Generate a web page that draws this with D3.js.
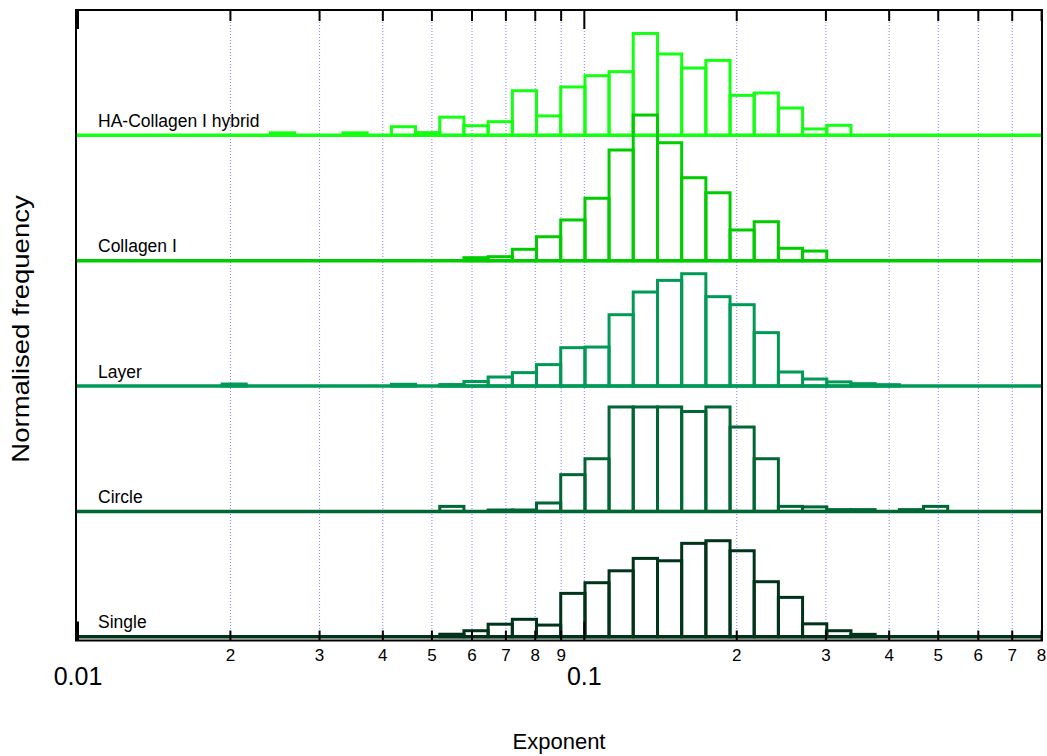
<!DOCTYPE html>
<html>
<head>
<meta charset="utf-8">
<script src="https://cdn.jsdelivr.net/npm/d3@7"></script>
<style>
  body { margin: 0; background: #fff; }
  text { font-family: "Liberation Sans", Arial, sans-serif; fill: #000; }
</style>
</head>
<body>
<svg id="chart" width="1047" height="756"></svg>
<script>
// bin edges of the exponent histogram (log spaced)
var binEdges = [0.009952, 0.01111, 0.01240, 0.01384, 0.01545, 0.01725, 0.01926, 0.02149, 0.02399, 0.02678,
    0.02990, 0.03337, 0.03725, 0.04159, 0.04642, 0.05182, 0.05784, 0.06457, 0.07208, 0.08046,
    0.08982, 0.1003, 0.1119, 0.1249, 0.1395, 0.1557, 0.1738, 0.1940, 0.2165, 0.2417,
    0.2698, 0.3012, 0.3362, 0.3753, 0.4190, 0.4677, 0.5220, 0.5827, 0.6505, 0.7261, 0.8106];

// series names, top to bottom
var seriesNames = ["HA-Collagen I hybrid", "Collagen I", "Layer", "Circle", "Single"];
var seriesColors = ["#14ff14", "#00cc00", "#009955", "#006633", "#00331a"];

// normalised frequency per bin (40 bins)
var haCollagen = [0, 0, 0, 0, 0, 0, 0, 0, 0.020, 0, 0, 0.020, 0, 0.069, 0.022, 0.145, 0.077, 0.109, 0.356, 0.155,
    0.386, 0.476, 0.508, 0.813, 0.649, 0.537, 0.598, 0.319, 0.338, 0.218, 0.051, 0.080, 0, 0, 0, 0, 0, 0, 0, 0];
var collagen = [0, 0, 0, 0, 0, 0, 0, 0, 0, 0, 0, 0, 0, 0, 0, 0, 0.024, 0.032, 0.091, 0.191,
    0.325, 0.498, 0.883, 1.162, 0.941, 0.662, 0.542, 0.245, 0.311, 0.099, 0.077, 0, 0, 0, 0, 0, 0, 0, 0, 0];
var layer = [0, 0, 0, 0, 0, 0, 0.016, 0, 0, 0, 0, 0, 0, 0.014, 0, 0.012, 0.036, 0.072, 0.107, 0.171,
    0.306, 0.311, 0.569, 0.750, 0.843, 0.896, 0.713, 0.649, 0.426, 0.112, 0.056, 0.033, 0.019, 0.011, 0, 0, 0, 0, 0, 0];
var circle = [0, 0, 0, 0, 0, 0, 0, 0, 0, 0, 0, 0, 0, 0, 0, 0.040, 0, 0.011, 0.011, 0.067,
    0.293, 0.420, 0.833, 0.833, 0.833, 0.797, 0.833, 0.673, 0.420, 0.040, 0.036, 0.014, 0.014, 0, 0.014, 0.040, 0, 0, 0, 0];
var single = [0, 0, 0, 0, 0, 0, 0, 0, 0, 0, 0, 0, 0, 0, 0, 0.020, 0.048, 0.100, 0.139, 0.093,
    0.346, 0.431, 0.526, 0.625, 0.606, 0.745, 0.766, 0.686, 0.439, 0.314, 0.103, 0.048, 0.019, 0, 0, 0, 0, 0, 0, 0];

var seriesValues = [haCollagen, collagen, layer, circle, single];

// axis ticks
var minorTicks = [0.02, 0.03, 0.04, 0.05, 0.06, 0.07, 0.08, 0.09, 0.2, 0.3, 0.4, 0.5, 0.6, 0.7, 0.8];
var majorTicks = [0.01, 0.1];

drawChart();

function drawChart() {
    var svg = d3.select("#chart");
    var pLeft = 76, pRight = 1042, pTop = 10, pBottom = 640.5;

    var x = d3.scaleLog().domain([0.00991, 0.8015]).range([pLeft, pRight]);
    var y = d3.scaleLinear().domain([-0.03, 5]).range([pBottom, pTop]);

    svg.append("defs").append("clipPath").attr("id", "plotclip")
        .append("rect").attr("x", pLeft).attr("y", pTop)
        .attr("width", pRight - pLeft).attr("height", pBottom - pTop);

    // dotted grid lines
    svg.append("g").selectAll("line")
        .data(minorTicks.concat([0.1]))
        .enter().append("line")
        .attr("x1", d => x(d)).attr("x2", d => x(d))
        .attr("y1", pTop).attr("y2", pBottom)
        .attr("stroke", "#7f7fff")
        .attr("stroke-width", 1)
        .attr("stroke-dasharray", "1,2");

    // histograms, each stacked on its own baseline
    var plot = svg.append("g").attr("clip-path", "url(#plotclip)");
    seriesNames.forEach(function (name, i) {
        var offset = seriesNames.length - 1 - i;
        var color = seriesColors[i];
        var g = plot.append("g");
        g.append("line")
            .attr("x1", x(binEdges[0])).attr("x2", x(binEdges[binEdges.length - 1]))
            .attr("y1", y(offset)).attr("y2", y(offset))
            .attr("stroke", color).attr("stroke-width", 3.5);
        var bins = seriesValues[i].map(function (v, k) {
            return {x0: binEdges[k], x1: binEdges[k + 1], v: v};
        }).filter(d => d.v > 0);
        g.selectAll("rect")
            .data(bins)
            .enter().append("rect")
            .attr("x", d => x(d.x0))
            .attr("width", d => x(d.x1) - x(d.x0))
            .attr("y", d => y(offset + d.v))
            .attr("height", d => y(offset) - y(offset + d.v))
            .attr("fill", "none")
            .attr("stroke", color)
            .attr("stroke-width", 3);
        svg.append("text")
            .attr("x", 98)
            .attr("y", y(offset) - 8.5)
            .style("font-size", "17.5px")
            .text(name);
    });

    // ticks top and bottom
    var tickG = svg.append("g").attr("stroke", "#000").attr("stroke-width", 2);
    minorTicks.forEach(function (t) {
        tickG.append("line").attr("x1", x(t)).attr("x2", x(t)).attr("y1", pTop).attr("y2", pTop + 11);
        tickG.append("line").attr("x1", x(t)).attr("x2", x(t)).attr("y1", pBottom).attr("y2", pBottom - 10);
    });
    majorTicks.forEach(function (t) {
        tickG.append("line").attr("x1", x(t)).attr("x2", x(t)).attr("y1", pTop).attr("y2", pTop + 19);
        tickG.append("line").attr("x1", x(t)).attr("x2", x(t)).attr("y1", pBottom).attr("y2", pBottom - 19);
    });

    // frame
    svg.append("rect")
        .attr("x", pLeft).attr("y", pTop)
        .attr("width", pRight - pLeft).attr("height", pBottom - pTop)
        .attr("fill", "none").attr("stroke", "#000").attr("stroke-width", 2);

    // tick labels
    svg.append("g").selectAll("text")
        .data(minorTicks)
        .enter().append("text")
        .attr("x", d => x(d))
        .attr("y", 661)
        .attr("text-anchor", "middle")
        .style("font-size", "17px")
        .text(d => d < 0.1 ? Math.round(d * 100) : Math.round(d * 10));
    svg.append("g").selectAll("text")
        .data(majorTicks)
        .enter().append("text")
        .attr("x", d => x(d))
        .attr("y", 685)
        .attr("text-anchor", "middle")
        .style("font-size", "25px")
        .text(d => d);

    // axis titles
    svg.append("text")
        .attr("x", (pLeft + pRight) / 2)
        .attr("y", 749)
        .attr("text-anchor", "middle")
        .style("font-size", "22px")
        .text("Exponent");
    svg.append("text")
        .attr("transform", "translate(29,329) rotate(-90) scale(1.17,1)")
        .attr("text-anchor", "middle")
        .style("font-size", "23.5px")
        .text("Normalised frequency");
}
</script>
</body>
</html>
